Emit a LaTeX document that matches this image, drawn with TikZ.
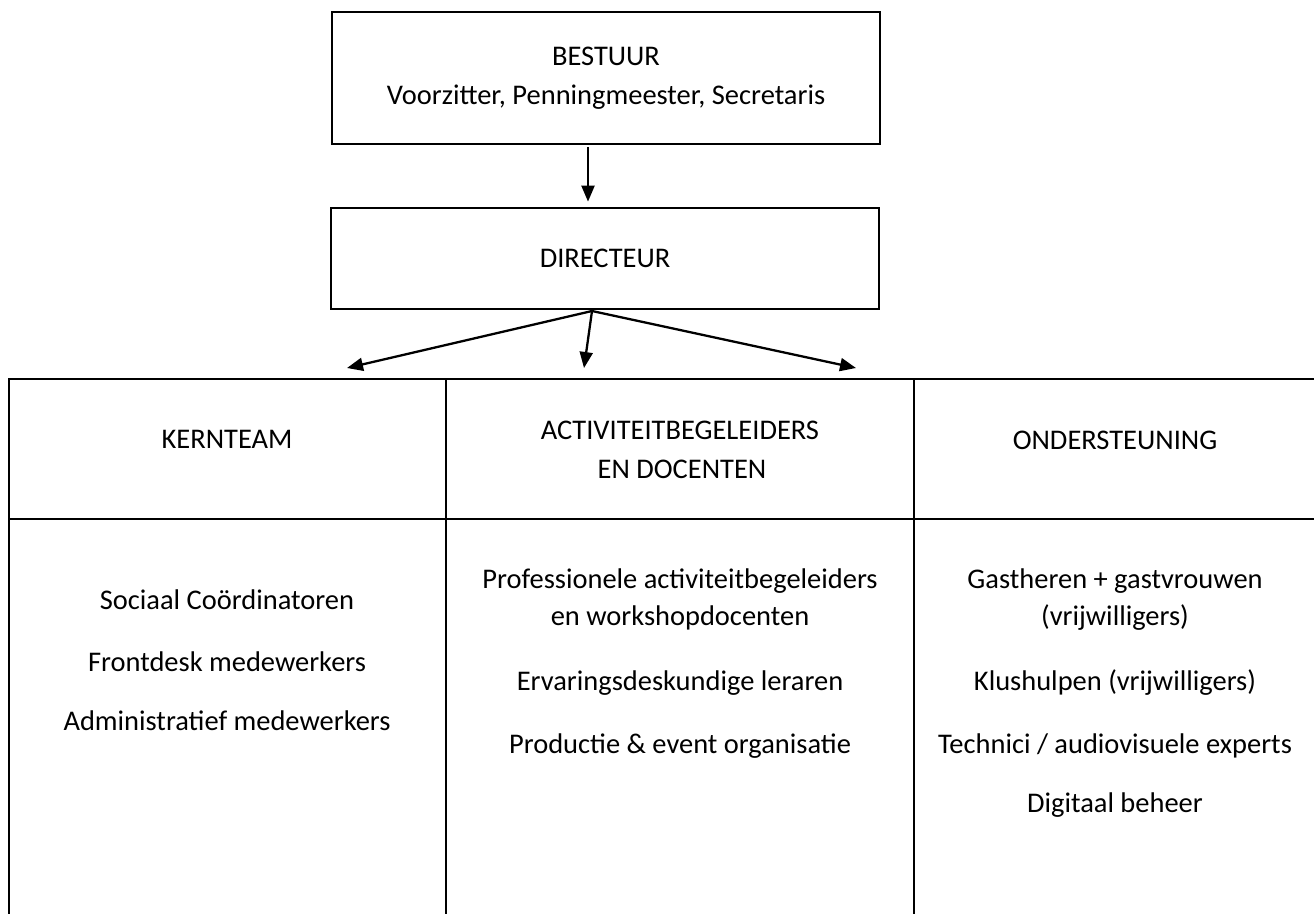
\documentclass[tikz,border=0pt]{standalone}
\usepackage{fontspec}
\setmainfont{Carlito}
\usetikzlibrary{arrows.meta}

\begin{document}
\begin{tikzpicture}[x=0.02cm, y=-0.02cm, line width=1.3pt,
    box/.style={draw, line width=1.3pt, inner sep=0pt, align=center,
      font=\fontsize{16.2}{22.2}\selectfont},
    lbl/.style={inner sep=0pt, font=\fontsize{16.2}{22.2}\selectfont},
    arr/.style={-{Triangle[length=0.32cm,width=0.26cm]}, line width=1.3pt}]
    \useasboundingbox (0,0) rectangle (1314,913);

    % Board and director
    \node[box, minimum width=10.96cm, minimum height=2.64cm] (bestuur) at (606,78)
        {BESTUUR\\Voorzitter, Penningmeester, Secretaris};
    \node[box, minimum width=10.96cm, minimum height=2.02cm] (directeur) at (605,258.5) {DIRECTEUR};
    \draw[arr, shorten <=1pt, shorten >=3pt] ([xshift=-0.36cm]bestuur.south)
        -- ([xshift=-0.36cm]bestuur.south |- directeur.north);

    % Arrows to the three teams
    \coordinate (split) at (592,311);
    \coordinate (tipK) at (347,368);
    \coordinate (tipA) at (584,368);
    \coordinate (tipO) at (856,368);
    \foreach \t in {tipK,tipA,tipO}
    {
        \draw[arr] (split) -- (\t);
    }

    % Table grid
    \draw (9,916) -- (9,379) -- (1318,379);
    \draw (9,519) -- (1318,519);
    \foreach \x in {446,914}
    {
        \draw (\x,379) -- (\x,916);
    }

    % Column headers
    \node[lbl] (kern) at (227,439) {KERNTEAM};
    \node[lbl] (activ1) at (680,430) {ACTIVITEITBEGELEIDERS};
    \node[lbl] (activ2) at (682,469) {EN DOCENTEN};
    \node[lbl] (onder) at (1115,440) {ONDERSTEUNING};

    % Column contents
    \foreach \txt/\y [count=\i] in {Sociaal Coördinatoren/609, Frontdesk medewerkers/671,
        Administratief medewerkers/730}
        \node[lbl, anchor=base] (kern\i) at (227,\y) {\txt};
    \foreach \txt/\y [count=\i] in {Professionele activiteitbegeleiders/588,
        en workshopdocenten/625, Ervaringsdeskundige leraren/690,
        Productie \& event organisatie/753}
        \node[lbl, anchor=base] (activ\i) at (680,\y) {\txt};
    \foreach \txt/\y [count=\i] in {Gastheren + gastvrouwen/588, (vrijwilligers)/625,
        Klushulpen (vrijwilligers)/690, {Technici / audiovisuele experts}/753,
        Digitaal beheer/812}
        \node[lbl, anchor=base] (onder\i) at (1115,\y) {\txt};
\end{tikzpicture}
\end{document}
